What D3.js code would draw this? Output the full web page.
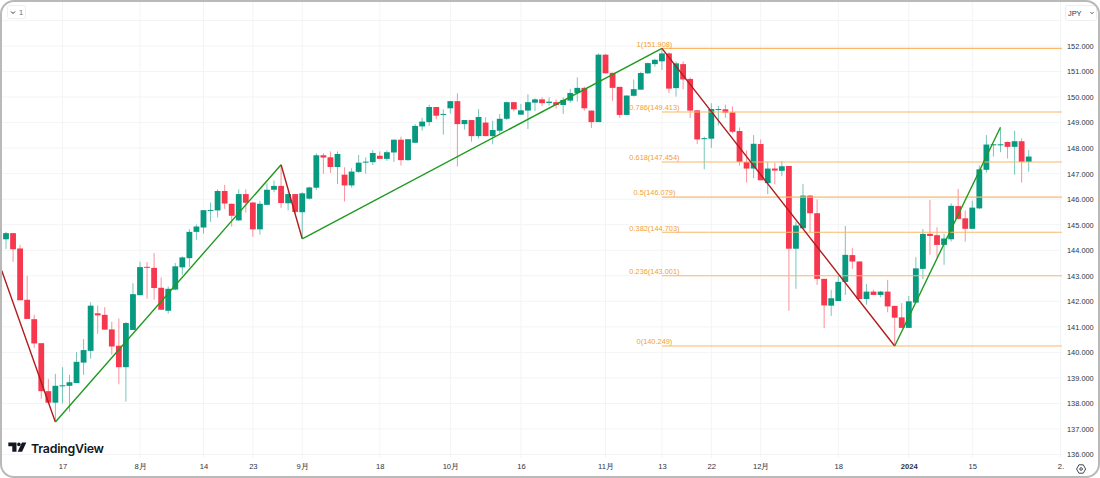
<!DOCTYPE html>
<html>
<head>
<meta charset="utf-8">
<script src="https://cdn.jsdelivr.net/npm/d3@7"></script>
<style>
  html, body { margin: 0; padding: 0; background: #fff; }
  svg { display: block; font-family: "Liberation Sans", "Noto Sans CJK JP", Arial, sans-serif; }
</style>
</head>
<body>
<svg id="chart" width="1100" height="478"></svg>
<script>
// candles, one per trading day, left to right
const opens = [
  144.43,144.67,144.07,142.06,141.30,140.36,138.48,138.03,138.67,138.69,
  138.80,139.60,140.06,141.53,141.47,140.90,140.26,139.42,140.88,142.24,
  143.35,143.31,142.53,141.63,142.46,143.33,143.69,144.72,144.89,145.55,
  145.56,146.32,145.82,145.17,146.20,145.87,144.82,145.78,146.37,146.52,
  145.84,146.20,145.49,146.02,146.45,147.72,147.64,147.26,146.96,146.54,
  147.07,147.45,147.45,147.70,147.58,147.83,148.33,147.53,148.21,148.85,
  149.02,149.61,149.31,149.56,149.84,148.94,149.10,148.47,149.00,148.47,
  148.68,149.15,149.80,149.31,149.47,149.78,149.91,149.77,149.80,149.69,
  149.86,150.16,150.36,149.47,149.02,151.66,150.95,150.40,149.30,150.05,
  150.29,150.93,151.29,151.40,151.71,150.35,151.29,150.71,149.48,148.37,
  148.37,149.51,149.52,149.40,148.67,147.46,147.20,148.16,146.63,147.20,
  147.11,147.30,144.06,144.86,146.14,145.45,142.88,141.83,142.01,142.76,
  143.81,143.56,142.09,142.38,142.25,142.38,141.82,141.37,140.96,141.95,
  143.27,144.64,144.59,144.21,144.43,145.73,145.25,144.84,145.64,147.15,
  148.13,148.13,148.24,148.05,148.27,147.46];
const highs = [
  144.72,144.67,144.21,143.00,141.47,140.36,138.96,139.16,139.42,139.12,
  140.01,140.52,141.96,141.83,141.77,141.20,141.33,141.19,142.71,143.55,
  143.54,143.89,142.94,142.58,143.50,143.76,144.83,145.01,145.57,145.87,
  146.39,146.56,145.83,146.39,146.39,145.88,145.94,146.62,146.73,147.34,
  146.29,146.20,146.27,146.49,147.80,147.80,147.87,147.87,147.25,147.21,
  147.73,147.64,147.93,147.87,147.91,148.34,148.45,148.35,148.94,149.19,
  149.70,149.61,149.52,149.84,150.15,149.10,149.10,149.53,149.21,149.07,
  149.34,149.82,149.80,149.73,150.11,149.95,149.99,149.99,149.91,149.99,
  150.32,150.77,150.41,149.47,151.71,151.69,150.95,150.40,150.06,150.69,
  150.99,151.35,151.50,151.87,151.75,151.39,151.40,150.77,149.48,148.45,
  149.76,149.66,149.70,149.63,148.81,147.91,148.51,148.34,147.47,147.43,
  147.50,147.30,145.12,146.59,146.17,145.99,142.88,142.45,143.04,144.95,
  144.08,143.56,142.68,142.45,142.41,142.84,141.83,141.93,142.21,143.73,
  144.83,145.97,144.90,144.64,145.84,146.40,145.56,145.94,147.32,148.51,
  148.16,148.77,148.26,148.68,148.38,147.93];
const lows = [
  144.05,143.55,142.04,141.31,140.18,138.18,138.00,137.28,138.00,137.68,
  138.80,139.12,139.75,140.73,140.89,139.91,138.75,138.07,140.89,142.24,
  142.10,142.06,141.67,141.52,142.43,143.04,143.34,144.41,144.65,145.11,
  145.29,145.62,144.93,145.15,145.48,144.53,144.61,145.77,146.27,145.66,
  145.56,145.45,144.46,145.99,146.36,147.00,147.03,146.59,145.91,146.45,
  147.03,147.00,147.34,147.58,147.50,147.46,147.32,147.50,148.21,148.68,
  148.87,149.13,148.53,149.36,147.28,148.73,148.25,148.38,148.47,148.15,
  148.58,149.10,149.44,149.31,148.75,149.46,149.65,149.66,149.55,149.34,
  149.78,149.82,149.47,148.79,149.02,150.93,149.86,149.19,149.30,150.02,
  150.29,150.90,151.19,151.06,150.15,150.02,150.31,149.18,148.16,147.17,
  148.01,148.89,149.19,148.58,147.32,146.65,146.82,146.74,146.20,146.58,
  146.90,141.63,142.49,144.86,144.70,142.64,140.95,141.43,142.01,142.25,
  143.27,142.09,141.87,142.25,142.16,141.57,140.29,140.96,140.96,141.96,
  142.87,143.82,143.73,143.43,144.34,145.19,144.34,144.84,145.61,147.04,
  147.67,147.84,147.59,146.96,146.65,147.08];
const closes = [
  144.67,144.04,142.04,141.31,140.35,138.48,138.03,138.69,138.71,138.83,
  139.63,140.09,141.83,141.45,140.89,140.23,139.42,141.15,142.28,143.34,
  143.33,142.52,141.67,142.49,143.37,143.72,144.72,144.93,145.57,145.58,
  146.32,145.83,145.35,146.20,145.86,144.82,145.82,146.37,146.52,145.85,
  146.20,145.50,146.23,146.46,147.72,147.63,147.26,147.77,146.54,147.08,
  147.43,147.47,147.81,147.58,147.84,148.33,147.53,148.35,148.87,149.04,
  149.61,149.27,149.34,149.84,148.94,149.10,148.47,149.22,148.47,148.71,
  149.15,149.80,149.52,149.48,149.80,149.91,149.76,149.82,149.69,149.89,
  150.16,150.36,149.56,149.02,151.66,150.93,150.36,149.30,150.06,150.31,
  150.94,151.33,151.46,151.71,150.33,151.32,150.69,149.47,148.34,148.39,
  149.53,149.53,149.39,148.64,147.46,147.20,148.17,146.74,147.20,147.12,
  147.29,144.06,144.97,146.14,145.45,142.88,141.84,142.12,142.76,143.82,
  143.56,142.09,142.38,142.25,142.38,141.80,141.36,140.96,142.00,143.29,
  144.64,144.56,144.21,144.46,145.74,145.23,144.84,145.67,147.17,148.14,
  148.15,148.15,148.05,148.27,147.46,147.67];

// zigzag pivots: candle index and price
const zigzagIndex = [-0.6, 7, 39, 42, 93, 126, 141];
const zigzagPrice = [143.20, 137.27, 147.35, 144.45, 151.908, 140.249, 148.82];

// fib levels
const fibRatios = ["1", "0.786", "0.618", "0.5", "0.382", "0.236", "0"];
const fibPrices = [151.908, 149.413, 147.454, 146.079, 144.703, 143.001, 140.249];
const fibStart = 93, fibEnd = 149.7;

// axes
const priceTicks = [136,137,138,139,140,141,142,143,144,145,146,147,148,149,150,151,152];
const priceGrid = priceTicks.concat([153]);
const timeTickIndex = [8,19,28,35,42,53,63,73,85,93,100,107,118,128,137,149.5];
const timeTickLabels = ["17","8月","14","23","9月","18","10月","16","11月","13","22","12月","18","2024","15","2."];

const x = d3.scaleLinear().domain([0, 145]).range([6, 1028.7]);
const y = d3.scaleLinear().domain([136, 152]).range([454.5, 46]);

const UP = "#089981", DOWN = "#f7374d", FIB = "#fab868", FIB_TEXT = "#f59e30";
const GRID = "#f3f4f6", TEXT = "#2f333e";

const svg = d3.select("#chart");

svg.append("clipPath").attr("id", "pane")
  .append("rect").attr("x", 2).attr("y", 2).attr("width", 1096).attr("height", 474).attr("rx", 13);

const pane = svg.append("g").attr("clip-path", "url(#pane)");

// grid
pane.append("g").selectAll("line").data(priceGrid).join("line")
  .attr("x1", 2).attr("x2", 1062)
  .attr("y1", d => y(d)).attr("y2", d => y(d))
  .attr("stroke", GRID);
pane.append("g").selectAll("line").data(timeTickIndex).join("line")
  .attr("x1", d => x(d)).attr("x2", d => x(d))
  .attr("y1", 2).attr("y2", 458)
  .attr("stroke", GRID);

// candles
const candles = pane.append("g").selectAll("g").data(opens).join("g");
candles.append("line")
  .attr("x1", (d, i) => x(i)).attr("x2", (d, i) => x(i))
  .attr("y1", (d, i) => y(highs[i])).attr("y2", (d, i) => y(lows[i]))
  .attr("stroke", (d, i) => closes[i] >= d ? UP : DOWN)
  .attr("stroke-width", 1).attr("stroke-opacity", 0.55);
candles.append("rect")
  .attr("x", (d, i) => x(i) - 2.9)
  .attr("width", 5.8)
  .attr("y", (d, i) => y(Math.max(d, closes[i])))
  .attr("height", (d, i) => Math.max(1, Math.abs(y(d) - y(closes[i]))))
  .attr("fill", (d, i) => closes[i] >= d ? UP : DOWN);

// fib lines and labels
pane.append("g").selectAll("line").data(fibPrices).join("line")
  .attr("x1", x(fibStart)).attr("x2", x(fibEnd))
  .attr("y1", d => y(d)).attr("y2", d => y(d))
  .attr("stroke", FIB).attr("stroke-width", 1.1);
pane.append("g").selectAll("text").data(fibPrices).join("text")
  .attr("x", x(fibStart) - 7.5)
  .attr("y", d => y(d) - 1.8)
  .attr("text-anchor", "middle")
  .attr("font-size", 7.4)
  .attr("fill", FIB_TEXT)
  .text((d, i) => `${fibRatios[i]}(${d.toFixed(3)})`);

// zigzag, red going down and green going up
pane.append("g").selectAll("line").data(zigzagIndex.slice(1)).join("line")
  .attr("x1", (d, i) => x(zigzagIndex[i])).attr("y1", (d, i) => y(zigzagPrice[i]))
  .attr("x2", d => x(d)).attr("y2", (d, i) => y(zigzagPrice[i + 1]))
  .attr("stroke", (d, i) => zigzagPrice[i + 1] < zigzagPrice[i] ? "#b01c1c" : "#1f9a1f")
  .attr("stroke-width", 1.4);

// price axis
const priceAxis = svg.append("g")
  .attr("transform", "translate(1067,0)")
  .call(d3.axisRight(y).tickValues(priceTicks).tickFormat(d3.format(".3f")).tickSize(0).tickPadding(0));
priceAxis.select(".domain").remove();
priceAxis.selectAll("text").attr("font-size", 7.4).attr("font-family", "inherit").attr("fill", TEXT);

// time axis
const labelFor = d => timeTickLabels[timeTickIndex.indexOf(d)];
const timeAxis = svg.append("g")
  .attr("transform", "translate(0,464)")
  .call(d3.axisBottom(x).tickValues(timeTickIndex).tickFormat(labelFor).tickSize(0).tickPadding(0));
timeAxis.select(".domain").remove();
timeAxis.selectAll("text")
  .attr("font-size", 7.6).attr("font-family", "inherit").attr("fill", TEXT)
  .attr("font-weight", d => labelFor(d) === "2024" ? 600 : 400);

// logo
const logo = svg.append("g").attr("transform", "translate(8.3,442.6)").attr("fill", "#131722");
logo.append("path").attr("d", "M0 0H8.2V9.2H4V3.6H0Z");
logo.append("circle").attr("cx", 10.6).attr("cy", 1.8).attr("r", 1.8);
logo.append("path").attr("d", "M13.6 0H18L13.8 9.2H9.4Z");
svg.append("text").attr("x", 31).attr("y", 452.5)
  .attr("font-family", "Inter, 'Liberation Sans', sans-serif")
  .attr("font-size", 12.4).attr("font-weight", 600).attr("letter-spacing", -0.25)
  .attr("fill", "#131722").text("TradingView");

// top left button
svg.append("rect").attr("x", 7.5).attr("y", 5.5).attr("width", 18).attr("height", 13).attr("rx", 2)
  .attr("fill", "#fff").attr("stroke", "#eceef2");
svg.append("path").attr("d", "M11 11.5L13 13.5L15 11.5").attr("fill", "none").attr("stroke", "#2f333e").attr("stroke-width", 1);
svg.append("text").attr("x", 19).attr("y", 15).attr("font-size", 7.4).attr("fill", "#6a6d78").text("1");

// currency button
svg.append("rect").attr("x", 1065.5).attr("y", 5.5).attr("width", 31).attr("height", 15).attr("rx", 2)
  .attr("fill", "#fff").attr("stroke", "#eceef2");
svg.append("text").attr("x", 1068).attr("y", 15.5).attr("font-size", 7.4).attr("fill", "#2f333e").text("JPY");
svg.append("path").attr("d", "M1090.5 12.2L1092 13.7L1093.5 12.2").attr("fill", "none").attr("stroke", "#2f333e").attr("stroke-width", 0.9);

// settings icon
svg.append("path").attr("d", "M1076.6 469L1078.9 464.8H1083.3L1085.6 469L1083.3 473.2H1078.9Z")
  .attr("fill", "none").attr("stroke", "#2f333e").attr("stroke-width", 0.9);
svg.append("circle").attr("cx", 1081.1).attr("cy", 469).attr("r", 1.3)
  .attr("fill", "none").attr("stroke", "#2f333e").attr("stroke-width", 0.9);

// frame
svg.append("rect").attr("x", 1).attr("y", 1).attr("width", 1098).attr("height", 476).attr("rx", 13)
  .attr("fill", "none").attr("stroke", "#b9b9b9").attr("stroke-width", 2);
</script>
</body>
</html>
